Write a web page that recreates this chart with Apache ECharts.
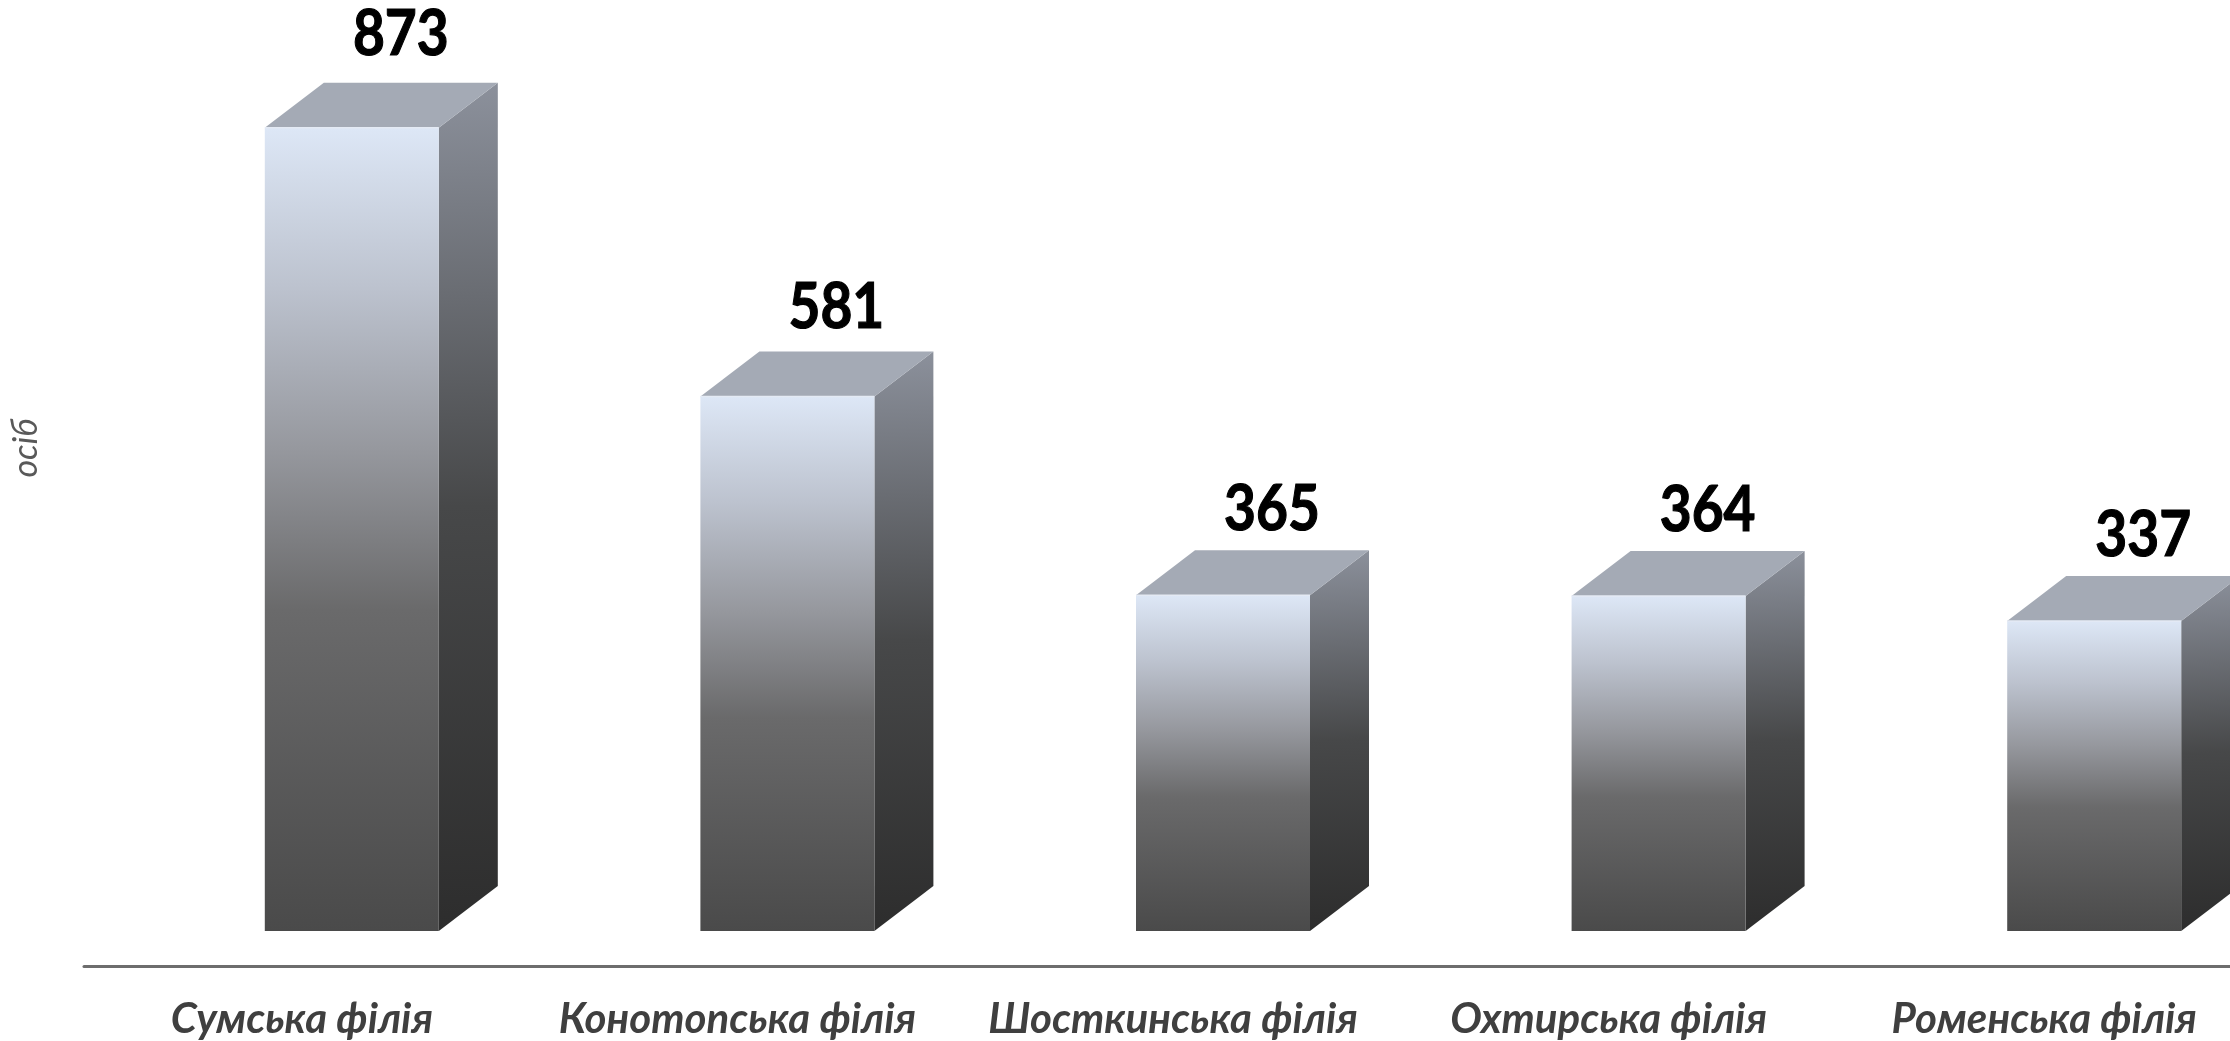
<!DOCTYPE html>
<html>
<head>
<meta charset="utf-8">
<script src="https://cdn.jsdelivr.net/npm/echarts@6/dist/echarts.min.js"></script>
<style>
html,body{margin:0;padding:0;background:#fff;overflow:hidden;width:2230px;height:1041px;}
#chart{width:2262px;height:1041px;}
</style>
</head>
<body>
<div id="chart"></div>
<script>
const categories = ['Сумська філія', 'Конотопська філія', 'Шосткинська філія', 'Охтирська філія', 'Роменська філія'];
const values = [873, 581, 365, 364, 337];
const axisName = 'осіб';

const chart = echarts.init(document.getElementById('chart'), null, {renderer: 'canvas'});

const W = 174, DX = 59, DY = 45, SHIFT = 50, LIFT = 35;
const frontGrad = new echarts.graphic.LinearGradient(0, 0, 0, 1, [
  {offset: 0, color: '#dde7f6'},
  {offset: 0.2, color: '#bcc2ce'},
  {offset: 0.4, color: '#96989e'},
  {offset: 0.6, color: '#6a6a6b'},
  {offset: 1, color: '#4a4a4a'}
]);
const sideGrad = new echarts.graphic.LinearGradient(0, 0, 0.3, 1, [
  {offset: 0, color: '#8c919c'},
  {offset: 0.5, color: '#474849'},
  {offset: 1, color: '#2d2d2d'}
]);

function renderItem(params, api) {
  const i = api.value(0), v = api.value(1);
  const b = api.coord([i, 0]), t = api.coord([i, v]);
  const cx = b[0] + SHIFT, x0 = cx - W / 2, x1 = cx + W / 2;
  const yb = b[1] - LIFT, yt = t[1] - LIFT;
  const h = yb - yt;
  const labelGap = 4 + 0.015 * h;
  return {
    type: 'group',
    children: [
      {type: 'polygon', shape: {points: [[x1, yt], [x1 + DX, yt - DY], [x1 + DX, yb - DY], [x1, yb]]}, style: {fill: sideGrad}},
      {type: 'polygon', shape: {points: [[x0, yt], [x0 + DX, yt - DY], [x1 + DX, yt - DY], [x1, yt]]}, style: {fill: '#a4aab5'}},
      {type: 'rect', shape: {x: x0, y: yt, width: W, height: h}, style: {fill: frontGrad}},
      {type: 'line', shape: {x1: x0, y1: yt, x2: x1, y2: yt}, style: {stroke: '#e4eaf4', lineWidth: 1.5}},
      {type: 'text', x: cx + 49, y: yt - DY - labelGap, scaleX: 0.86,
        style: {text: String(v), x: 0, y: 0, align: 'center', verticalAlign: 'bottom',
        fontFamily: 'Lato', fontWeight: 'bold', fontSize: 64, fill: '#000', stroke: '#000', lineWidth: 1.2}}
    ]
  };
}

chart.setOption({
  animation: false,
  grid: {left: 84, right: 0, top: 46, bottom: 75, containLabel: false},
  xAxis: {
    type: 'category',
    data: categories,
    axisLine: {lineStyle: {color: '#6d6d6d', width: 3}},
    axisTick: {show: false},
    axisLabel: {interval: 0, margin: 32, fontFamily: 'Lato', fontStyle: 'italic', fontWeight: 'bold', fontSize: 42, color: '#3f3f3f'}
  },
  yAxis: {
    type: 'value', min: 0, max: 1000,
    axisLine: {show: false}, axisTick: {show: false}, axisLabel: {show: false}, splitLine: {show: false},
    name: axisName, nameLocation: 'middle', nameGap: 41,
    nameTextStyle: {fontFamily: 'Lato', fontStyle: 'italic', fontSize: 34, color: '#595959', padding: [0, 0, 0, 116]}
  },
  series: [{
    type: 'custom',
    renderItem: renderItem,
    encode: {x: 0, y: 1},
    clip: false,
    data: values.map((v, i) => [i, v])
  }]
});
</script>
</body>
</html>
